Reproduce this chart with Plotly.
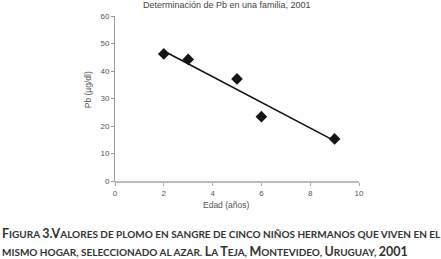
import plotly.graph_objects as go

edad = [2, 3, 5, 6, 9]
pb = [46.2, 44.2, 37.1, 23.4, 15.3]
trend_x = [2, 9]
trend_y = [47.3, 14.6]
x_ticks = [0, 2, 4, 6, 8, 10]
y_ticks = [0, 10, 20, 30, 40, 50, 60]

title = "Determinación de Pb en una familia, 2001"
x_title = "Edad (años)"
y_title = "Pb (µg/dl)"

BIG = 12.5
def b(s):
    return f"<span style='font-size:{BIG}px'>{s}</span>"

cap1 = f"{b('F')}IGURA {b('3.V')}ALORES DE PLOMO EN SANGRE DE CINCO NIÑOS HERMANOS QUE VIVEN EN EL"
cap2 = f"MISMO HOGAR, SELECCIONADO AL AZAR. {b('L')}A {b('T')}EJA, {b('M')}ONTEVIDEO, {b('U')}RUGUAY, {b('2001')}"

plot_font = "Liberation Sans Narrow, Arial Narrow, Liberation Sans, sans-serif"
cap_font = "Lato, Liberation Sans, sans-serif"

fig = go.Figure()
fig.add_trace(go.Scatter(x=trend_x, y=trend_y, mode="lines",
                         line=dict(color="#111111", width=1.6),
                         hoverinfo="skip", showlegend=False))
fig.add_trace(go.Scatter(x=edad, y=pb, mode="markers",
                         marker=dict(symbol="diamond", size=9, color="#151515"),
                         showlegend=False))

fig.update_layout(
    width=441, height=259,
    margin=dict(l=115, r=82, t=16, b=78),
    paper_bgcolor="white", plot_bgcolor="white",
    font=dict(family=plot_font, size=8, color="#555555"),
    xaxis=dict(range=[0, 10], tickvals=x_ticks, showgrid=False, zeroline=False,
               showline=True, linecolor="#bbbbbb", linewidth=2,
               ticks="outside", ticklen=3, tickcolor="#aaaaaa",
               tickfont=dict(size=8, color="#555555")),
    yaxis=dict(range=[0, 60], tickvals=y_ticks, showgrid=False, zeroline=False,
               showline=True, linecolor="#999999", linewidth=1,
               ticks="outside", ticklen=3, tickcolor="#999999",
               tickfont=dict(size=8, color="#555555")),
    annotations=[
        dict(text=title, xref="paper", yref="paper", x=0.46, y=1.0, yshift=11,
             showarrow=False, font=dict(size=9, color="#444444", family=plot_font),
             xanchor="center", yanchor="middle"),
        dict(text=y_title, xref="paper", yref="paper", x=0, xshift=-27, y=0.55,
             textangle=-90, showarrow=False, font=dict(size=8.5, color="#555555", family=plot_font),
             xanchor="center", yanchor="middle"),
        dict(text=x_title, xref="paper", yref="paper", x=0.455, y=0, yshift=-24,
             showarrow=False, font=dict(size=8.5, color="#555555", family=plot_font),
             xanchor="center", yanchor="middle"),
        dict(text=cap1, xref="paper", yref="paper", x=0, xshift=-115, y=0, yshift=-52,
             showarrow=False, font=dict(size=10, color="#333333", family=cap_font, weight="bold"),
             xanchor="left", yanchor="middle"),
        dict(text=cap2, xref="paper", yref="paper", x=0, xshift=-115, y=0, yshift=-70,
             showarrow=False, font=dict(size=10, color="#333333", family=cap_font, weight="bold"),
             xanchor="left", yanchor="middle"),
    ],
)

fig.write_html("out.html", config={"displayModeBar": False},
               post_script="document.body.style.margin='0';")
